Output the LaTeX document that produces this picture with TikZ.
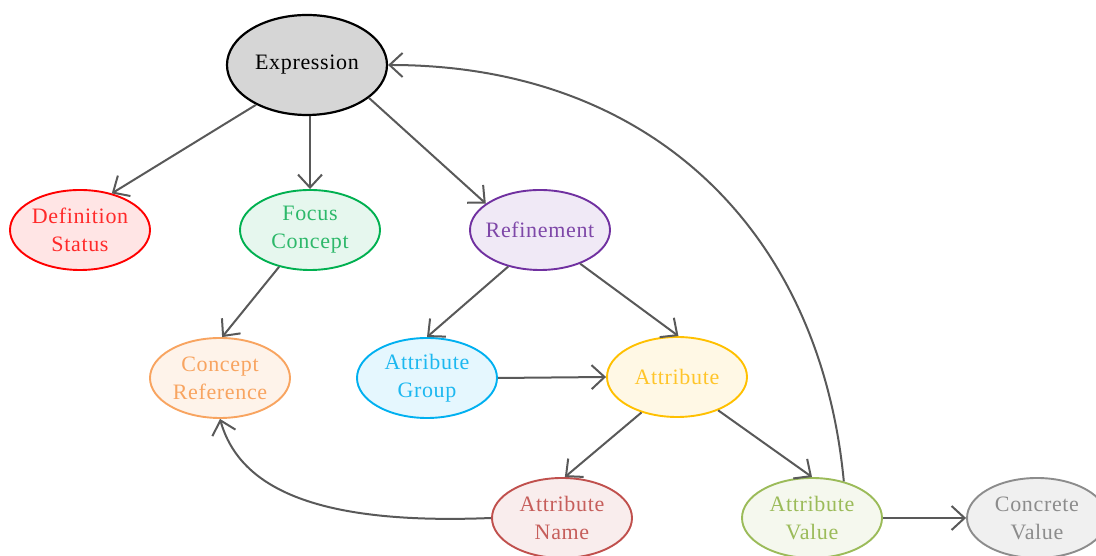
\documentclass[tikz,border=0pt]{standalone}
\usepackage{fontspec}
\newfontfamily\dfont{Liberation Serif}[LetterSpace=3]
\usetikzlibrary{arrows.meta,shapes.geometric}
\definecolor{edgec}{HTML}{595959}
\definecolor{exprfill}{HTML}{D6D6D6}
\definecolor{defc}{HTML}{FF0000}\definecolor{deff}{HTML}{FFE5E5}\definecolor{deft}{HTML}{FF2A2A}
\definecolor{focc}{HTML}{00B050}\definecolor{focf}{HTML}{E6F7EE}\definecolor{foct}{HTML}{2DB86A}
\definecolor{refc}{HTML}{7030A0}\definecolor{reff}{HTML}{F0E9F6}\definecolor{reft}{HTML}{7E47A8}
\definecolor{crefc}{HTML}{F8A460}\definecolor{creff}{HTML}{FEF3EA}\definecolor{creft}{HTML}{F8A460}
\definecolor{agc}{HTML}{00B0F0}\definecolor{agf}{HTML}{E5F7FE}\definecolor{agt}{HTML}{1DB8F0}
\definecolor{atc}{HTML}{FFC000}\definecolor{atf}{HTML}{FFF8E5}\definecolor{att}{HTML}{FFC52A}
\definecolor{anc}{HTML}{C0504D}\definecolor{anf}{HTML}{F9EDED}\definecolor{ant}{HTML}{C65E5B}
\definecolor{avc}{HTML}{9BBB59}\definecolor{avf}{HTML}{F5F8EE}\definecolor{avt}{HTML}{9BBB59}
\definecolor{cvc}{HTML}{8C8C8C}\definecolor{cvf}{HTML}{F0F0F0}\definecolor{cvt}{HTML}{8C8C8C}
\begin{document}
\begin{tikzpicture}[x=1pt,y=1pt,
  ell/.style={ellipse, draw, line width=1.9pt, minimum width=140pt, minimum height=80pt, inner sep=0pt},
  lab/.style={font=\dfont\fontsize{22}{28}\selectfont, align=center, inner sep=0pt},
  conn/.style={draw=edgec, line width=2pt, -{Straight Barb[length=13pt,width=24pt,line width=2pt]}}]
\useasboundingbox (0,0) rectangle (1096,556);
% nodes
\node[ell, draw=black, fill=exprfill, line width=2.2pt, minimum width=160pt, minimum height=100pt,
  label={[lab, text=black]center:Expression}] (expr) at (307,491) {};
\node[ell, draw=defc, fill=deff, label={[lab, text=deft]center:Definition\\Status}] (def) at (80,326) {};
\node[ell, draw=focc, fill=focf, label={[lab, text=foct]center:Focus\\Concept}] (focus) at (310,326) {};
\node[ell, draw=refc, fill=reff, label={[lab, text=reft]center:Refinement}] (refine) at (540,326) {};
\node[ell, draw=crefc, fill=creff, label={[lab, text=creft]center:Concept\\Reference}] (cref) at (220,178) {};
\node[ell, draw=agc, fill=agf, label={[lab, text=agt]center:Attribute\\Group}] (agroup) at (427,178) {};
\node[ell, draw=atc, fill=atf, label={[lab, text=att]center:Attribute}] (attr) at (677,179) {};
\node[ell, draw=anc, fill=anf, label={[lab, text=ant]center:Attribute\\Name}] (aname) at (562,38) {};
\node[ell, draw=avc, fill=avf, label={[lab, text=avt]center:Attribute\\Value}] (aval) at (812,38) {};
\node[ell, draw=cvc, fill=cvf, label={[lab, text=cvt]center:Concrete\\Value}] (cval) at (1037,38) {};
% connectors
\draw[conn] (expr.218) -- (def.49);
\draw[conn] (focus.north |- expr.south) -- (focus.north);
\draw[conn] (expr.332) -- (refine.154);
\draw[conn] (focus.230) -- (cref.87);
\draw[conn] (refine.229) -- (agroup.north);
\draw[conn] (refine.320) -- (attr.88);
\draw[conn] (agroup.east) -- (attr.west);
\draw[conn] (attr.225) -- (aname.86);
\draw[conn] (attr.321) -- (aval.north);
\draw[conn] (aval.east) -- (cval.west);
\draw[conn] (aname.west) .. controls (320,31) and (240,66) .. (cref.south);
\draw[conn] (aval.49) .. controls (820,326) and (650,491) .. (expr.east);
\end{tikzpicture}
\end{document}
